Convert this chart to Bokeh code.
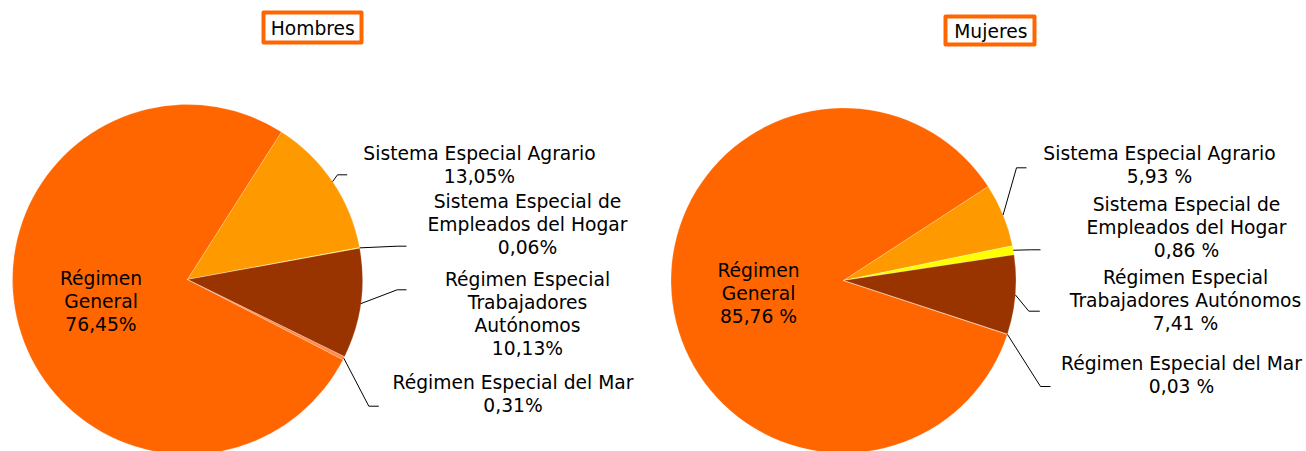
import numpy as np
from bokeh.plotting import figure
from bokeh.models import Range1d, ColumnDataSource
from bokeh.embed import file_html
from bokeh.resources import INLINE
from bokeh.core.properties import value

# ---------------- data ----------------
categories = ["Régimen General", "Sistema Especial Agrario",
              "Sistema Especial de Empleados del Hogar",
              "Régimen Especial Trabajadores Autónomos",
              "Régimen Especial del Mar"]
hombres = [76.45, 13.05, 0.06, 10.13, 0.31]
mujeres = [85.76, 5.93, 0.86, 7.41, 0.03]
labels_hombres = ["Régimen\nGeneral", "Sistema Especial Agrario",
                  "Sistema Especial de\nEmpleados del Hogar",
                  "Régimen Especial\nTrabajadores\nAutónomos",
                  "Régimen Especial del Mar"]
labels_mujeres = ["Régimen\nGeneral", "Sistema Especial Agrario",
                  "Sistema Especial de\nEmpleados del Hogar",
                  "Régimen Especial\nTrabajadores Autónomos",
                  "Régimen Especial del Mar"]
titles = ["Hombres", "Mujeres"]
colors = ["#FF6600", "#FF9900", "#FFFF00", "#993300", "#FF8A4D"]

# ---------------- layout ----------------
W, H = 1306, 451
FONT = "DejaVu Sans"
FS = 18.7
LINE = 23.0
TEXT_DY = 0.0   # empirical: baseline placed at cap middle


def Y(sy):
    return H - sy


pies = [
    dict(values=hombres, labels=labels_hombres, title=titles[0],
         fmt=lambda v: f"{v:.2f}%".replace(".", ","),
         cx=187, cy=279, r=175, a0=57.5,
         title_box=(312, 27, 98, 30), title_txt=(312.3, 27.7),
         text_pos={0: (100.5, 301.1), 1: (479, 164), 2: (527, 224),
                   3: (527, 313.3), 4: (512.5, 393.5)},
         elbows={1: (337, 174.3), 2: (396.7, 245.7), 3: (396.7, 289.3), 4: (368.3, 405.7)},
         ends={1: 346.7, 2: 406, 3: 406, 4: 378.3}),
    dict(values=mujeres, labels=labels_mujeres, title=titles[1],
         fmt=lambda v: f"{v:.2f} %".replace(".", ","),
         cx=843, cy=280, r=172.5, a0=33.0,
         title_box=(989.5, 30, 89, 28), title_txt=(990.3, 31.2),
         text_pos={0: (758, 292.5), 1: (1159, 164.7), 2: (1186, 227),
                   3: (1185, 299.7), 4: (1181, 374)},
         elbows={1: (1016, 167.3), 2: (1030, 249.3), 3: (1028.3, 310.7), 4: (1040, 386)},
         ends={1: 1026, 2: 1040, 3: 1039.3, 4: 1050}),
]

p = figure(width=W, height=H, x_range=Range1d(0, W), y_range=Range1d(0, H),
           output_backend="svg", toolbar_location=None, min_border=0,
           x_axis_location=None, y_axis_location=None)
p.grid.visible = False
p.outline_line_color = None
p.background_fill_color = "white"

for pie in pies:
    vals = np.array(pie["values"], dtype=float)
    total = vals.sum()
    spans = vals / total * 360.0
    seq = [1, 2, 3, 4, 0]  # clockwise order starting at a0
    starts, ends_a, mids = {}, {}, {}
    a = pie["a0"]
    for k in seq:
        starts[k] = a - spans[k]
        ends_a[k] = a
        mids[k] = a - spans[k] / 2.0
        a -= spans[k]
    src = ColumnDataSource(dict(
        x=[pie["cx"]] * 5, y=[Y(pie["cy"])] * 5,
        start=[np.deg2rad(starts[k]) for k in range(5)],
        end=[np.deg2rad(ends_a[k]) for k in range(5)],
        color=colors, cat=categories, val=list(vals)))
    p.wedge(x="x", y="y", radius=pie["r"], start_angle="start", end_angle="end",
            fill_color="color", line_color="white", line_alpha=0.3, line_width=0.7,
            source=src)

    # leader lines
    xs, ys = [], []
    for k in range(1, 5):
        m = np.deg2rad(mids[k])
        ex = pie["cx"] + pie["r"] * np.cos(m)
        ey = pie["cy"] - pie["r"] * np.sin(m)
        bx, by = pie["elbows"][k]
        xs.append([ex, bx, pie["ends"][k]])
        ys.append([Y(ey), Y(by), Y(by)])
    p.multi_line(xs=xs, ys=ys, line_color="black", line_width=1)

    # labels
    tx, ty, tt = [], [], []
    for k in range(5):
        lines = pie["labels"][k].split("\n") + [pie["fmt"](vals[k])]
        cxl, cyl = pie["text_pos"][k]
        n = len(lines)
        for i, ln in enumerate(lines):
            cap_mid = cyl + (i - (n - 1) / 2.0) * LINE
            tx.append(cxl)
            ty.append(Y(cap_mid + TEXT_DY))
            tt.append(ln)
    p.text(x=tx, y=ty, text=tt, text_align="center", text_baseline="alphabetic",
           text_font=value(FONT), text_font_size=f"{FS}px", text_color="black")

    # title box
    bx, by, bw, bh = pie["title_box"]
    p.rect(x=[bx], y=[Y(by)], width=bw, height=bh, fill_color="white",
           line_color="#FF6600", line_width=4, line_join="round")
    ttx, tty = pie["title_txt"]
    p.text(x=[ttx], y=[Y(tty + TEXT_DY)], text=[pie["title"]], text_align="center",
           text_baseline="alphabetic", text_font=value(FONT),
           text_font_size=f"{FS}px", text_color="black")

open("out.html", "w").write(file_html(p, INLINE))
